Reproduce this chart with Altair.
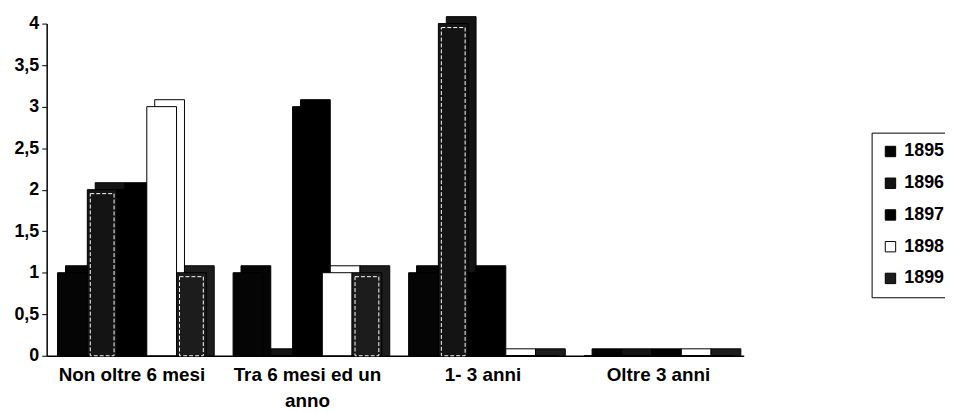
import altair as alt
import pandas as pd

categories = ["Non oltre 6 mesi", "Tra 6 mesi ed un anno", "1- 3 anni", "Oltre 3 anni"]
years = ["1895", "1896", "1897", "1898", "1899"]
v1895 = [1, 1, 1, 0]
v1896 = [2, 0, 4, 0]
v1897 = [2, 3, 1, 0]
v1898 = [3, 1, 0, 0]
v1899 = [1, 1, 0, 0]
y_ticks = [0, 0.5, 1, 1.5, 2, 2.5, 3, 3.5, 4]
colors = ["#050505", "#141414", "#000000", "#ffffff", "#1c1c1c"]
outlined = ["1896", "1899"]

series = dict(zip(years, [v1895, v1896, v1897, v1898, v1899]))
rows = []
for yr in years:
    for cat, val in zip(categories, series[yr]):
        rows.append({"cat": cat, "year": yr, "value": val})
df = pd.DataFrame(rows)

font = "Liberation Sans"
W, H = 703, 335
GROUP_W = 150  # pixel width of one category's cluster
DX, DY = 8, 7  # 3-D depth of the bars

x_enc = alt.X(
    "cat:N", sort=categories,
    scale=alt.Scale(paddingInner=0.153, paddingOuter=0.062),
    axis=alt.Axis(
        title=None, labelAngle=0, ticks=False, domainColor="black", domainWidth=1.5,
        labelFont=font, labelFontWeight="bold", labelFontSize=19, labelColor="black",
        labelPadding=10, labelLineHeight=26,
        labelExpr="datum.label == 'Tra 6 mesi ed un anno' ? ['Tra 6 mesi ed un', 'anno'] : datum.label",
    ),
)


def xoff(rng, pi=0.0, po=0.0):
    return alt.XOffset("year:N", sort=years,
                       scale=alt.Scale(domain=years, range=rng, paddingInner=pi, paddingOuter=po))


y_enc = alt.Y(
    "value:Q", stack=None,
    scale=alt.Scale(domain=[0, 4], nice=False),
    axis=alt.Axis(
        title=None, values=y_ticks, grid=False, tickSize=5, tickColor="black",
        domainColor="black", domainWidth=1.5, labelFont=font, labelFontWeight="bold",
        labelFontSize=18, labelColor="black", labelPadding=3,
        labelExpr="replace(toString(datum.value), '.', ',')",
    ),
)
y_inner = alt.Y("value:Q", stack=None, scale=alt.Scale(domain=[0, 4], nice=False), axis=None)
y_back = alt.Y("value:Q", stack=None,
               scale=alt.Scale(domain=[0, 4], nice=False, range=[H - DY, -DY]), axis=None)

color_enc = alt.Color(
    "year:N", sort=years,
    scale=alt.Scale(domain=years, range=colors),
    legend=alt.Legend(
        title=None, orient="none", legendX=832, legendY=110,
        symbolType="square", symbolSize=110, symbolStrokeColor="black", symbolStrokeWidth=1,
        labelFont=font, labelFontWeight="bold", labelFontSize=18, labelColor="black",
        labelOffset=5, rowPadding=14, padding=10,
        strokeColor="black", fillColor="white", cornerRadius=0,
    ),
)

back = alt.Chart(df).mark_bar(stroke="black", strokeWidth=1).encode(
    x=x_enc, xOffset=xoff([DX, DX + GROUP_W]), y=y_back, y2=alt.value(H), color=color_enc
)

front = alt.Chart(df).mark_bar(stroke="black", strokeWidth=1).encode(
    x=x_enc, xOffset=xoff([0, GROUP_W]), y=y_enc, color=color_enc
)

inner = alt.Chart(df).transform_filter(
    alt.FieldOneOfPredicate(field="year", oneOf=outlined)
).transform_filter("datum.value > 0").mark_bar(
    filled=False, stroke="white", strokeWidth=1, strokeDash=[4, 2], yOffset=4, y2Offset=-3
).encode(x=x_enc, xOffset=xoff([0, GROUP_W], 0.2, 0.1), y=y_inner)

chart = alt.layer(back, front, inner).resolve_scale(
    xOffset="independent", y="independent"
).properties(
    width=W, height=H,
    autosize=alt.AutoSizeParams(type="none"),
    padding={"left": 39, "top": 14, "right": 203, "bottom": 55},
).configure_view(stroke=None)

chart.save("out.html", embed_options={"renderer": "svg", "actions": False})
